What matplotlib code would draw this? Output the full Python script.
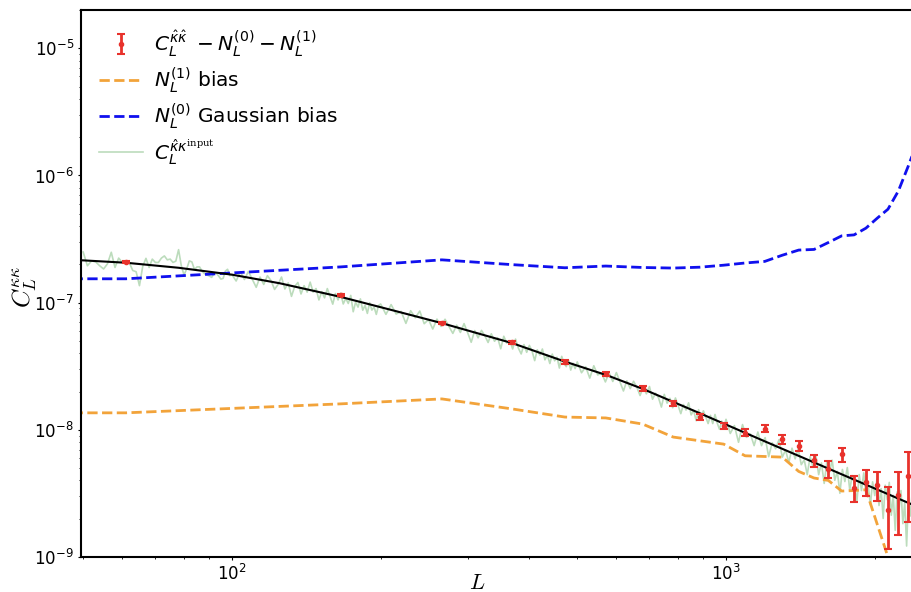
import numpy as np
import matplotlib.pyplot as plt

# the 'custom' math font set is used only for the input-spectrum label
plt.rcParams['mathtext.rm'] = 'DejaVu Serif'
plt.rcParams['mathtext.it'] = 'DejaVu Sans:italic'
plt.rcParams['mathtext.bf'] = 'DejaVu Sans:bold'
plt.rcParams['mathtext.sf'] = 'DejaVu Sans'

# all spectra below are in units of 1e-9
UNIT = 1e-9

# binned reconstruction C_L^{kk} - N0 - N1 with error bars
L_bins = [61, 166, 266, 369, 472, 571, 678, 782, 885, 989, 1093, 1198,
          1300, 1403, 1507, 1611, 1714, 1816, 1919, 2024, 2127, 2233, 2339]
C_rec = [208, 115, 69, 49, 34.1, 27.5, 21.2, 16.2, 12.7, 10.8, 9.5, 10.2,
         8.45, 7.5, 5.75, 4.9, 6.4, 3.5, 3.9, 3.7, 2.36, 3.1, 4.3]
C_rec_err = [3.0, 2.0, 1.5, 1.3, 1.1, 0.9, 1.0, 0.8, 0.65, 0.6, 0.63, 0.67,
             0.7, 0.68, 0.63, 0.75, 0.85, 0.8, 0.9, 0.95, 1.2, 1.6, 2.4]

# N0 gaussian bias
L_n0 = [10, 61, 166, 266, 369, 472, 571, 678, 782, 885, 989, 1093, 1198,
        1300, 1403, 1507, 1611, 1714, 1816, 1919, 2024, 2127, 2233, 2339, 2443]
N0 = [154, 154, 191, 217, 199, 188, 194, 189, 187, 190, 197, 205, 211,
      236, 259, 262, 297, 335, 341, 385, 462, 543, 756, 1190, 1860]

# N1 bias
L_n1 = [10, 61, 166, 266, 369, 472, 571, 678, 782, 885, 989, 1093, 1198,
        1300, 1403, 1507, 1611, 1714, 1816, 1919, 2024, 2127, 2233]
N1 = [13.6, 13.6, 16.0, 17.5, 14.6, 12.6, 12.4, 11.1, 8.77, 8.2, 7.72, 6.25,
      6.17, 6.1, 4.71, 4.18, 4.0, 3.3, 3.33, 3.38, 1.8, 1.0, 0.3]

# theory curve
L_theory = [40, 50, 61, 78, 100, 125, 166, 210, 266, 369, 472, 575, 678, 885,
            1198, 1507, 1816, 2080, 2368, 2450]
C_theory = [220, 215, 206, 188, 166, 142, 111, 87.7, 69, 48.1, 34.4, 26.8,
            21.0, 13.5, 8.12, 5.54, 4.06, 3.24, 2.61, 2.46]

L_in_a = np.arange(50, 100, 1)
C_in_a = [250, 195, 213, 209, 195, 184, 202, 249, 189, 224,
          207, 202, 206, 179, 175, 136, 193, 223, 189, 220,
          207, 207, 224, 233, 217, 220, 207, 212, 261, 195,
          165, 184, 213, 209, 182, 191, 191, 177, 169, 165,
          162, 158, 169, 170, 162, 153, 155, 177, 183, 163]
L_in_b = np.arange(100, 200, 2)
C_in_b = [166, 148, 175, 152, 176, 152, 132, 159, 139, 163,
          149, 127, 139, 159, 128, 143, 112, 134, 144, 117,
          136, 121, 145, 121, 129, 105, 122, 109, 129, 112,
          97.3, 118, 105, 119, 97.6, 108, 98.5, 114, 84.8, 101,
          92.2, 107, 87.2, 95.1, 82.3, 99.9, 87.4, 92.2, 80.8, 95.0]
L_in_c = np.arange(200, 500, 5)
C_in_c = [97.6, 80.9, 96.5, 81.3, 85.4, 68.7, 86.4, 76.0, 85.9, 68.3,
          73.6, 62.0, 74.2, 65.1, 74.0, 64.9, 57.3, 66.5, 58.3, 68.4,
          58.1, 48.8, 60.3, 52.9, 60.5, 55.0, 48.6, 56.9, 49.7, 53.0,
          43.4, 54.4, 48.1, 50.3, 43.2, 51.7, 43.9, 39.5, 46.8, 40.7,
          46.1, 41.6, 35.0, 42.6, 38.7, 43.2, 35.5, 38.7, 33.2, 39.4,
          34.9, 37.2, 30.6, 37.8, 33.5, 31.4, 35.3, 29.5, 33.4, 30.3]
L_in_d = np.arange(500, 1000, 10)
C_in_d = [34.2, 28.1, 31.3, 25.5, 31.9, 27.0, 28.0, 23.8, 28.1, 24.0,
          28.2, 23.8, 20.2, 24.3, 21.1, 24.1, 21.6, 18.6, 21.9, 19.2,
          21.9, 17.4, 19.4, 17.9, 15.1, 19.0, 16.2, 17.7, 14.9, 17.8,
          15.5, 13.4, 15.8, 14.3, 16.3, 13.1, 14.2, 11.8, 14.4, 12.6,
          14.1, 12.6, 11.2, 13.0, 11.2, 13.2, 11.3, 10.1, 11.7, 10.4]
L_in_e = np.arange(1000, 2500, 20)
C_in_e = [12.1, 9.36, 10.8, 7.98, 11.0, 8.72, 9.28, 7.51, 9.61, 7.51,
          8.68, 6.15, 7.91, 7.10, 8.37, 6.10, 6.92, 5.53, 7.17, 5.91,
          7.09, 5.32, 5.80, 4.44, 6.17, 5.09, 6.33, 4.44, 5.49, 3.79,
          5.62, 4.66, 5.77, 4.01, 4.71, 3.17, 4.88, 3.92, 5.05, 3.36,
          4.37, 3.76, 2.70, 4.45, 3.33, 4.59, 3.03, 3.64, 2.57, 3.90,
          3.04, 4.08, 2.54, 3.45, 2.01, 3.67, 2.82, 3.86, 2.13, 3.05,
          1.62, 3.25, 2.40, 3.33, 1.83, 2.69, 1.22, 2.93, 2.10, 3.15,
          1.53, 2.51, 0.94, 2.64, 1.81]

L_in = np.concatenate([L_in_a, L_in_b, L_in_c, L_in_d, L_in_e])
C_in = np.concatenate([C_in_a, C_in_b, C_in_c, C_in_d, C_in_e])

fig = plt.figure(figsize=(9.11, 5.92), dpi=100)
ax = fig.add_axes([81 / 911, 35 / 592, 830 / 911, 547 / 592])

ax.plot(L_in, C_in * UNIT, color='#bcdcbc', lw=1.2,
        label=r'$C_L^{\hat\kappa\kappa^{\mathrm{input}}}$', zorder=1)
ax.plot(L_theory, np.array(C_theory) * UNIT, color='black', lw=1.5, zorder=3)
ax.plot(L_n1, np.array(N1) * UNIT, '--', color='#f2a33a', lw=2,
        label=r'$N_L^{(1)}$ bias', zorder=2)
ax.plot(L_n0, np.array(N0) * UNIT, '--', color='#1010ee', lw=2,
        label=r'$N_L^{(0)}$ Gaussian bias', zorder=2)
ax.errorbar(L_bins, np.array(C_rec) * UNIT, yerr=np.array(C_rec_err) * UNIT,
            fmt='.', color='#e8322c', ms=6, elinewidth=2, capsize=3,
            capthick=1.5, zorder=4,
            label=r'$C_L^{\hat\kappa\hat\kappa}$ ${}- N_L^{(0)} - N_L^{(1)}$')

ax.set_xscale('log')
ax.set_yscale('log')
ax.set_xlim(49.5, 2368)
ax.set_ylim(1e-9, 2e-5)
ax.set_xlabel(r'$L$', fontsize=16, math_fontfamily='cm')
ax.set_ylabel(r'$C_L^{\kappa\kappa}$', fontsize=18, math_fontfamily='cm')
ax.xaxis.set_label_coords((477 - 81) / 830, -(583 - 557) / 547)
ax.yaxis.set_label_coords((25 - 81) / 830, (557 - 287) / 547)
ax.xaxis.label.set_va('center')
ax.yaxis.label.set_va('center')
ax.tick_params(labelsize=12, which='major', length=2.5, pad=2.5)
ax.tick_params(which='minor', length=1.5)
for s in ['left', 'bottom', 'top']:
    ax.spines[s].set_linewidth(1.5)
ax.spines['right'].set_visible(False)

handles, labels = ax.get_legend_handles_labels()
order = [3, 1, 2, 0]
leg = ax.legend([handles[i] for i in order], [labels[i] for i in order],
                loc='upper left', frameon=False, fontsize=14.5,
                handlelength=2.2, handletextpad=0.5, labelspacing=0.3)
leg.get_texts()[3].set_math_fontfamily('custom')

fig.savefig('out.png', dpi=100)
